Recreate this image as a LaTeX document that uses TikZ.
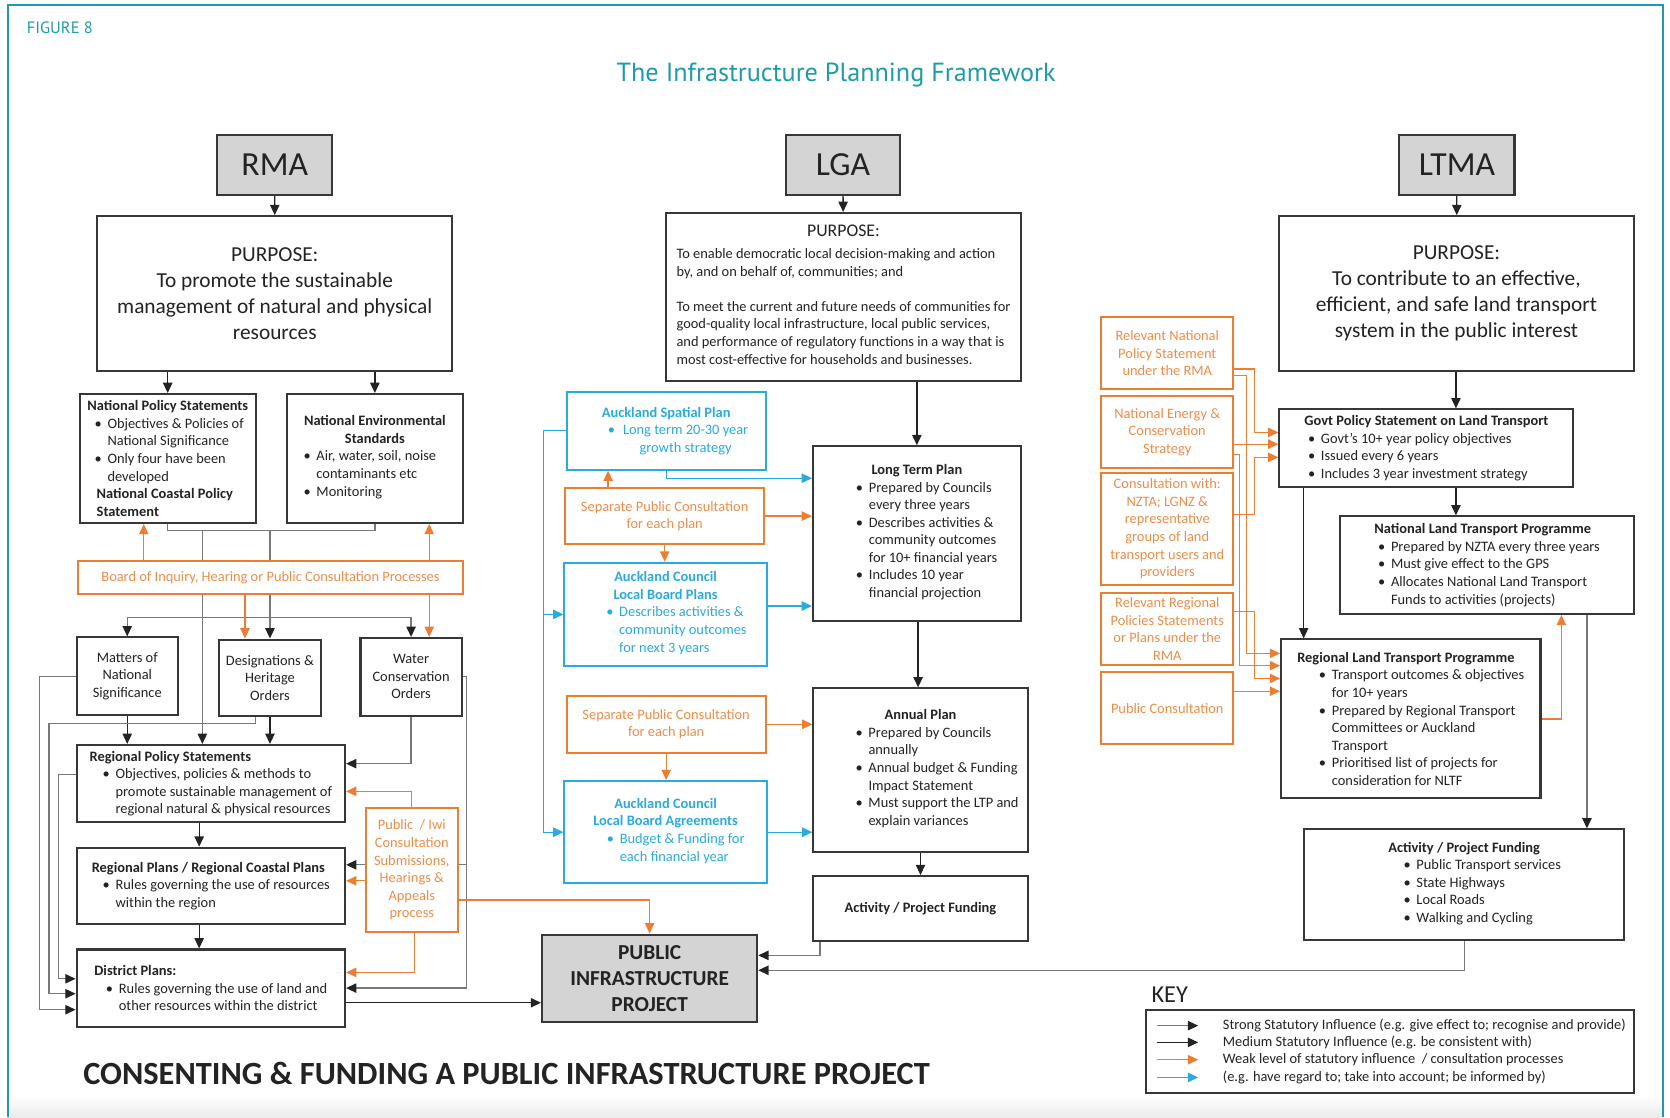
\documentclass[tikz,border=0pt]{standalone}
\usepackage{fontspec}
\setmainfont{Carlito}
\newfontfamily\headfont{PT Sans}
\usetikzlibrary{arrows.meta,backgrounds}

\definecolor{figteal}{RGB}{30,155,168}
\definecolor{ink}{RGB}{35,35,35}
\definecolor{edge}{RGB}{55,55,55}
\definecolor{actfill}{RGB}{212,212,212}
\definecolor{strongc}{RGB}{120,120,120}
\definecolor{weakc}{RGB}{237,125,49}
\definecolor{weaktxt}{RGB}{240,140,72}
\definecolor{infc}{RGB}{41,170,225}

\newcommand\body{\fontsize{7.7}{9.4}\selectfont}
\newcommand\purp{\fontsize{11.4}{13.9}\selectfont}
% bullet line and its continuation, #1 = indent
\newcommand\bul[1][.6em]{\hspace*{#1}\makebox[.9em][l]{\textbullet}}
\newcommand\cnt[1][.6em]{\hspace*{#1}\hspace*{.9em}}

\begin{document}
\begin{tikzpicture}[x=0.02cm, y=-0.02cm,
    every node/.style={font=\body, text=ink, align=center},
    wh/.style 2 args={minimum width=#1*0.02cm, minimum height=#2*0.02cm},
    box/.style={rectangle, draw=edge, line width=1.1pt, fill=white, anchor=north west, inner sep=2pt},
    actbox/.style={box, fill=actfill, font=\fontsize{18}{20}\selectfont},
    weakbox/.style={box, draw=weakc, text=weaktxt},
    infobox/.style={box, draw=infc, text=infc},
    med/.style={-{Triangle[length=5.5pt,width=5pt]}, draw=ink, line width=0.7pt},
    strong/.style={-{Triangle[length=5.5pt,width=5pt,color=ink]}, draw=strongc, line width=0.7pt},
    both/.style={{Triangle[length=5.5pt,width=5pt,color=ink]}-{Triangle[length=5.5pt,width=5pt,color=ink]}, draw=strongc, line width=0.7pt},
    weak/.style={-{Triangle[length=5.5pt,width=5pt]}, draw=weakc, line width=0.7pt},
    inform/.style={-{Triangle[length=5.5pt,width=5pt]}, draw=infc, line width=0.7pt}
]
\useasboundingbox (0,0) rectangle (1568,1049);
\draw[figteal, line width=1.2pt] (7.5,1049) -- (7.5,5) -- (1561.5,5) -- (1561.5,1049);

\node[anchor=west, font=\headfont\fontsize{8.8}{10}\selectfont, text=figteal] (fig) at (19,26) {FIGURE 8};
\node[font=\headfont\fontsize{14}{17}\selectfont, text=figteal] (title) at (785,70) {The Infrastructure Planning Framework};

% acts and their purposes
\node[actbox, wh={108}{56}] (rma) at (203,126) {RMA};
\node[actbox, wh={107}{56}] (lga) at (737,126) {LGA};
\node[actbox, wh={108}{56}] (ltma) at (1313,126) {LTMA};

\node[box, wh={333}{145}, font=\purp] (rmap) at (90.5,202) {PURPOSE:\\To promote the sustainable\\management of natural and physical\\resources};
\node[box, wh={333}{158}] (lgap) at (624.5,199) {{\fontsize{9.5}{11.5}\selectfont PURPOSE:}\\[2.5pt]
  \begin{tabular}[t]{@{}l@{}}To enable democratic local decision-making and action\\
  by, and on behalf of, communities; and\\ \\
  To meet the current and future needs of communities for\\
  good-quality local infrastructure, local public services,\\
  and performance of regulatory functions in a way that is\\
  most cost-effective for households and businesses.\end{tabular}};
\node[box, wh={333}{145}, font=\purp] (ltmap) at (1200,202) {PURPOSE:\\To contribute to an effective,\\efficient, and safe land transport\\system in the public interest};

% RMA column
\node[box, wh={165}{121}, align=left] (nps) at (74,369) {\textbf{National Policy Statements}\\
  \bul[.5em]Objectives \& Policies of\\ \cnt[.5em]National Significance\\
  \bul[.5em]Only four have been\\ \cnt[.5em]developed\\
  \hspace*{.65em}\textbf{National Coastal Policy}\\ \hspace*{.65em}\textbf{Statement}};
\node[box, wh={165}{121}] (nes) at (268.5,369) {\textbf{National Environmental}\\ \textbf{Standards}\\
  \begin{tabular}[t]{@{}l@{}}\bul[0pt]Air, water, soil, noise\\ \cnt[0pt]contaminants etc\\ \bul[0pt]Monitoring\end{tabular}\hspace*{.7em}};
\node[weakbox, wh={361}{31}] (brd) at (72.5,526) {Board of Inquiry, Hearing or Public Consultation Processes};

\node[box, wh={95}{73}] (mns) at (71,597.5) {Matters of\\National\\Significance};
\node[box, wh={95}{72}] (dho) at (205,599.5) {Designations \&\\Heritage\\Orders};
\node[box, wh={95}{73}] (wco) at (337.5,598) {Water\\Conservation\\Orders};

\node[box, wh={252}{72.5}, align=left] (rps) at (71,698.5) {\textbf{Regional Policy Statements}\\
  \bul[.9em]Objectives, policies \& methods to\\ \cnt[.9em]promote sustainable management of\\
  \cnt[.9em]regional natural \& physical resources};
\node[box, wh={252}{72}, align=left] (rpl) at (71,795) {\textbf{Regional Plans / Regional Coastal Plans}\\
  \bul[.75em]Rules governing the use of resources\\ \cnt[.75em]within the region};
\node[box, wh={252}{72.5}, align=left] (dpl) at (71,890.5) {\textbf{District Plans:}\\
  \bul[.8em]Rules governing the use of land and\\ \cnt[.8em]other resources within the district};
\node[weakbox, wh={86}{116}] (piw) at (342.7,758) {Public\ \ / Iwi\\Consultation\\Submissions,\\Hearings \&\\Appeals\\process};

\node[box, fill=actfill, wh={202}{82}, font=\fontsize{11.4}{13.9}\selectfont\bfseries] (pip) at (508,876.5) {PUBLIC\\INFRASTRUCTURE\\PROJECT};

% LGA column
\node[infobox, wh={187}{73}] (asp) at (531,367) {\textbf{Auckland Spatial Plan}\\
  \hspace*{2.7em}\llap{\textbullet\hspace{.55em}}Long term 20-30 year\\ \hspace*{2.7em}growth strategy};
\node[weakbox, wh={187}{52}] (spc1) at (529.6,457.6) {Separate Public Consultation\\for each plan};
\node[infobox, wh={190}{97}] (lbp) at (529,527.4) {\textbf{Auckland Council}\\ \textbf{Local Board Plans}\\
  \hspace*{1.5em}\begin{tabular}[t]{@{}l@{}}\bul[0pt]Describes activities \&\\ \cnt[0pt]community outcomes\\ \cnt[0pt]for next 3 years\end{tabular}};
\node[weakbox, wh={187}{53}] (spc2) at (531,652.6) {Separate Public Consultation\\for each plan};
\node[infobox, wh={190}{96}] (lba) at (529,732.4) {\textbf{Auckland Council}\\ \textbf{Local Board Agreements}\\
  \hspace*{1.4em}\begin{tabular}[t]{@{}l@{}}\bul[0pt]Budget \& Funding for\\ \cnt[0pt]each financial year\end{tabular}};

\node[box, wh={195}{164}] (ltp) at (762.4,418) {\textbf{Long Term Plan}\\
  \hspace*{1.35em}\begin{tabular}[t]{@{}l@{}}\bul[0pt]Prepared by Councils\\ \cnt[0pt]every three years\\
  \bul[0pt]Describes activities \&\\ \cnt[0pt]community outcomes\\ \cnt[0pt]for 10+ financial years\\
  \bul[0pt]Includes 10 year\\ \cnt[0pt]financial projection\end{tabular}};
\node[box, wh={201}{153.5}] (anp) at (762.8,645.4) {\textbf{Annual Plan}\\
  \hspace*{2.3em}\begin{tabular}[t]{@{}l@{}}\bul[0pt]Prepared by Councils\\ \cnt[0pt]annually\\
  \bul[0pt]Annual budget \& Funding\\ \cnt[0pt]Impact Statement\\
  \bul[0pt]Must support the LTP and\\ \cnt[0pt]explain variances\end{tabular}};
\node[box, wh={201}{61}] (apf1) at (762.8,821.6) {\textbf{Activity / Project Funding}};

% LTMA column
\node[weakbox, wh={124}{68}] (onb1) at (1033,296.7) {Relevant National\\Policy Statement\\under the RMA};
\node[weakbox, wh={124}{67}] (onb2) at (1033,371) {National Energy \&\\Conservation\\Strategy};
\node[weakbox, wh={124}{105}] (onb3) at (1033,443) {Consultation with:\\NZTA; LGNZ \&\\representative\\groups of land\\transport users and\\providers};
\node[weakbox, wh={124}{68}] (onb4) at (1033,555.6) {Relevant Regional\\Policies Statements\\or Plans under the\\RMA};
\node[weakbox, wh={124}{68}] (onb5) at (1033,630) {Public Consultation};

\node[box, wh={276}{73}, align=left] (gps) at (1200.3,383.4) {\textbf{Govt Policy Statement on Land Transport}\\
  \bul[.25em]Govt’s 10+ year policy objectives\\ \bul[.25em]Issued every 6 years\\
  \bul[.25em]Includes 3 year investment strategy};
\node[box, wh={276}{91.5}, align=left] (nltp) at (1257.3,483.9) {\textbf{National Land Transport Programme}\\
  \bul[.25em]Prepared by NZTA every three years\\ \bul[.25em]Must give effect to the GPS\\
  \bul[.25em]Allocates National Land Transport\\ \cnt[.25em]Funds to activities (projects)};
\node[box, wh={243.5}{149.3}, align=left] (rltp) at (1201.9,599.4) {\textbf{Regional Land Transport Programme}\\
  \bul[1.5em]Transport outcomes \& objectives\\ \cnt[1.5em]for 10+ years\\
  \bul[1.5em]Prepared by Regional Transport\\ \cnt[1.5em]Committees or Auckland\\ \cnt[1.5em]Transport\\
  \bul[1.5em]Prioritised list of projects for\\ \cnt[1.5em]consideration for NLTF};
\node[box, wh={300}{104}] (apf2) at (1223.8,777.8) {\textbf{Activity / Project Funding}\\
  \hspace*{2.5em}\begin{tabular}[t]{@{}l@{}}\bul[0pt]Public Transport services\\ \bul[0pt]State Highways\\
  \bul[0pt]Local Roads\\ \bul[0pt]Walking and Cycling\end{tabular}};

% key
\node[anchor=south west, font=\fontsize{13}{15}\selectfont] (keyhd) at (1075,947) {KEY};
\node[box, wh={458}{77.5}] (keybox) at (1075,947.7) {};
\node[anchor=west] (k1) at (1142,963) {Strong Statutory Influence (e.g. give effect to; recognise and provide)};
\node[anchor=west] (k2) at (1142,978.7) {Medium Statutory Influence (e.g. be consistent with)};
\node[anchor=west] (k3) at (1142,995) {Weak level of statutory influence\ \ / consultation processes};
\node[anchor=west] (k4) at (1142,1011.6) {(e.g. have regard to; take into account; be informed by)};
\draw[strong] (k1.west -| 1086,0) -- (k1.west -| 1125,0);
\draw[med] (k2.west -| 1086,0) -- (k2.west -| 1125,0);
\draw[weak] (k3.west -| 1086,0) -- (k3.west -| 1125,0);
\draw[inform] (k4.west -| 1086,0) -- (k4.west -| 1125,0);

\node[anchor=west, font=\fontsize{17.3}{20}\selectfont\bfseries] (ttl) at (72,1008) {CONSENTING \& FUNDING A PUBLIC INFRASTRUCTURE PROJECT};

\begin{scope}[on background layer]
\shade[top color=white, bottom color=black!8] (7.5,1028) rectangle (1561.5,1049);
\coordinate (bus1) at (0,498);
\coordinate (bus2) at (0,580);

% RMA links
\draw[med] (rma) -- (rmap);
\draw[med] (nps.north |- rmap.south) -- (nps);
\draw[med] (nes.north |- rmap.south) -- (nes);
\draw[strongc, line width=0.7pt] (nps) -- (nps.south |- bus1) -- (nes.south |- bus1) -- (nes);
\draw[weak] (135,0 |- brd.north) -- (135,0 |- nps.south);
\draw[weak] (403,0 |- brd.north) -- (403,0 |- nes.south);
\draw[strong] (190,0 |- bus1) -- (190,0 |- rps.north);
\draw[strong] (dho.north |- bus1) -- (dho);
\draw[both] (mns) |- (wco.north |- bus2) -- (wco);
\draw[weak] (230,0 |- brd.south) -- (230,0 |- dho.north);
\draw[weak] (403,0 |- brd.south) -- (403,0 |- wco.north);
\draw[med] (mns) -- (mns.south |- rps.north);
\draw[med] (dho) -- (dho.south |- rps.north);
\draw[strong] (wco) |- (rps.east |- 0,717);
\draw[med] (187,0 |- rps.south) -- (187,0 |- rpl.north);
\draw[med] (187,0 |- rpl.south) -- (187,0 |- dpl.north);
\draw[strong] (mns) -| (37,948) -- (dpl.west |- 0,948);
\draw[strong] (240,0 |- dho.south) |- (46,679) |- (dpl.west |- 0,933);
\draw[strong] (rps.west |- 0,727) -| (55,919) -- (dpl.west |- 0,919);
\draw[strong] (wco) -| (438,0 |- dpl.east) -- (dpl);
\draw[strong] (438,812) -- (rpl.east |- 0,812);
\draw[weak] (piw) |- (rps.east |- 0,743);
\draw[weak] (piw.west |- 0,827) -- (rpl.east |- 0,827);
\draw[weak] (389,0 |- piw.south) |- (dpl.east |- 0,913);
\draw[weak] (piw.east |- 0,845) -| (pip);
\draw[med] (dpl.east |- 0,941.5) -- (pip.west |- 0,941.5);

% LGA links
\draw[med] (lga) -- (lgap);
\draw[med] (lgap.south -| ltp.north) -- (ltp);
\draw[inform] (asp) |- (ltp.west |- 0,449);
\draw[inform] (asp) -| (510,0 |- lba.west) -- (lba);
\draw[inform] (510,0 |- lbp.west) -- (lbp);
\draw[weak] (571,0 |- spc1.north) -- (571,0 |- asp.south);
\draw[weak] (spc1) -- (ltp.west |- spc1.east);
\draw[weak] (spc1) -- (spc1.south |- lbp.north);
\draw[inform] (lbp.east |- 0,569) -- (ltp.west |- 0,569);
\draw[med] (862,0 |- ltp.south) -- (862,0 |- anp.north);
\draw[weak] (spc2) -- (anp.west |- spc2.east);
\draw[weak] (spc2) -- (spc2.south |- lba.north);
\draw[inform] (lba) -- (anp.west |- lba.east);
\draw[med] (anp) -- (anp.south |- apf1.north);
\draw[strong] (770,0 |- apf1.south) |- (pip.east |- 0,897);

% LTMA links
\draw[med] (ltma) -- (ltmap);
\draw[med] (1367,0 |- ltmap.south) -- (1367,0 |- gps.north);
\draw[med] (1367,0 |- gps.south) -- (1367,0 |- nltp.north);
\draw[med] (1224,0 |- gps.south) -- (1224,0 |- rltp.north);
\draw[weak] (rltp) -| (1466,0 |- nltp.south);
\draw[strong] (1490,0 |- nltp.south) -- (1490,0 |- apf2.north);
\draw[strong] (apf2) |- (pip.east |- 0,911);
\draw[weak, line width=0.6pt] (onb1.east |- 0,346.5) -| (1178,406) -- (gps.west |- 0,406);
\draw[weak, line width=0.6pt] (onb1.east |- 0,352.7) -| (1170.6,613.5) -- (rltp.west |- 0,613.5);
\draw[weak, line width=0.6pt] (onb2.east |- 0,417) -- (gps.west |- 0,417);
\draw[weak, line width=0.6pt] (onb2.east |- 0,426.6) -| (1163.5,625) -- (rltp.west |- 0,625);
\draw[weak, line width=0.6pt] (onb3.east |- 0,482.7) -| (1178,429.4) -- (gps.west |- 0,429.4);
\draw[weak, line width=0.6pt] (onb4.east |- 0,574) -| (1178,637) -- (rltp.west |- 0,637);
\draw[weak, line width=0.6pt] (onb5.east |- 0,649) -- (rltp.west |- 0,649);
\end{scope}
\end{tikzpicture}
\end{document}
